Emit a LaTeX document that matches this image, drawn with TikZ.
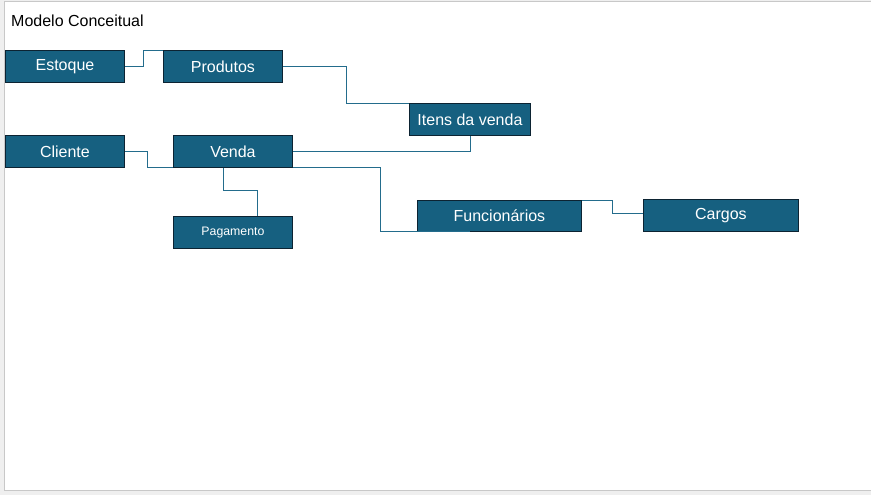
\documentclass[tikz,border=0pt]{standalone}
\usepackage{fontspec}
\setmainfont{Liberation Sans}
\usetikzlibrary{calc}
\definecolor{boxfill}{RGB}{22,96,128}
\definecolor{boxline}{RGB}{12,35,50}
\definecolor{connc}{RGB}{35,108,140}
\definecolor{pagebg}{RGB}{239,239,239}
\definecolor{frame}{RGB}{200,200,200}
\tikzset{
  entity/.style={draw=boxline, line width=0.9pt, fill=boxfill, text=white,
    minimum height=32pt, inner sep=0pt, anchor=north west,
    font=\fontsize{16}{19}\selectfont},
  conn/.style={draw=connc, line width=0.9pt},
  title/.style={anchor=west, inner sep=0pt, font=\fontsize{16}{19}\selectfont}
}
\begin{document}
\begin{tikzpicture}[x=1pt,y=-1pt]
\useasboundingbox (0,0) rectangle (871,495);
\fill[pagebg] (0,0) rectangle (871,495);
\draw[frame, fill=white, line width=1pt] (4.5,1.5) rectangle (875,490);
\node[title] (title) at (11,21) {Modelo Conceitual};
\node[entity, minimum width=119pt] (estoque) at (5,50) {Estoque};
\node[entity, minimum width=119pt] (produtos) at (163,50) {Produtos};
\node[entity, minimum width=121pt] (itens) at (409,103) {Itens da venda};
\node[entity, minimum width=119pt] (cliente) at (5,135) {Cliente};
\node[entity, minimum width=119pt] (venda) at (173,135) {Venda};
\node[entity, minimum width=119pt, font=\fontsize{12.3}{15}\selectfont] (pag) at (173,216) {Pagamento};
\node[entity, minimum width=164pt, minimum height=31pt] (func) at (417,200) {Funcionários};
\node[entity, minimum width=155pt] (cargos) at (643,199) {Cargos};
\draw[conn] (estoque.east) -- ++(19,0) |- (produtos.north west);
\draw[conn] (produtos.east) -- ++(64,0) |- (itens.north west);
\draw[conn] (venda.east) -| (itens.south);
\draw[conn] (venda.south east) -- ++(88,0) |- ($(func.south west)+(53,0)$);
\draw[conn] (cliente.east) -- ++(23,0) |- (venda.south west);
\draw[conn] ($(venda.south)+(-10,0)$) -- ++(0,23) -| ($(pag.north)+(24,0)$);
\draw[conn] (func.north east) -- ++(31,0) |- ($(cargos.west)+(0,-2)$);
\end{tikzpicture}
\end{document}
